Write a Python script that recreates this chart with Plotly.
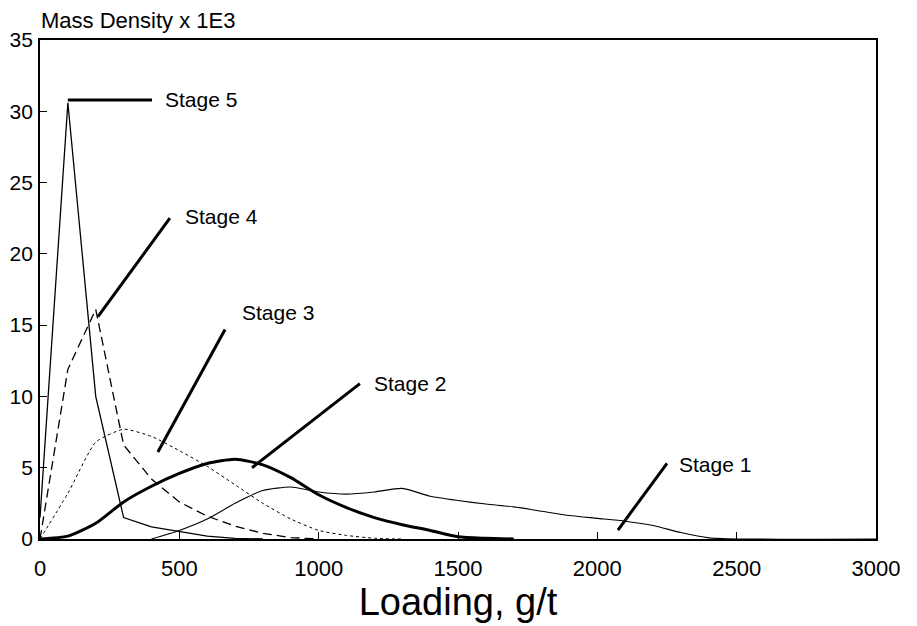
import plotly.graph_objects as go

# ---- data ----
loading_s5 = [0, 100, 200, 300, 400, 500, 600, 700, 800]
stage5 = [1.5, 30.6, 10.0, 1.5, 0.85, 0.5, 0.2, 0.05, 0.0]

loading_s4 = [0, 100, 200, 300, 400, 500, 600, 700, 800, 900, 1000]
stage4 = [0.0, 11.9, 16.1, 6.6, 4.2, 2.6, 1.6, 0.9, 0.4, 0.1, 0.0]

loading_s3 = [0, 100, 200, 300, 400, 500, 600, 700, 800, 900, 1000, 1100, 1200, 1300]
stage3 = [0.0, 3.2, 6.8, 7.7, 7.2, 6.2, 5.1, 3.8, 2.5, 1.4, 0.6, 0.25, 0.05, 0.0]

loading_s2 = [0, 100, 200, 300, 400, 500, 600, 700, 800, 900, 1000, 1100, 1200, 1300, 1400, 1500, 1600, 1700]
stage2 = [0.0, 0.2, 1.1, 2.6, 3.7, 4.6, 5.3, 5.6, 5.2, 4.3, 3.1, 2.2, 1.5, 1.0, 0.6, 0.15, 0.05, 0.0]

loading_s1 = [400, 500, 600, 700, 800, 900, 1000, 1100, 1200, 1300, 1400, 1500, 1600,
              1700, 1800, 1900, 2000, 2100, 2200, 2300, 2400, 2500, 3000]
stage1 = [0.0, 0.6, 1.4, 2.5, 3.4, 3.65, 3.3, 3.15, 3.3, 3.55, 3.0, 2.7, 2.45,
          2.25, 1.95, 1.65, 1.45, 1.25, 0.95, 0.45, 0.08, 0.0, 0.0]

stage_labels = ["Stage 1", "Stage 2", "Stage 3", "Stage 4", "Stage 5"]
x_ticks = [0, 500, 1000, 1500, 2000, 2500, 3000]
y_ticks = [0, 5, 10, 15, 20, 25, 30, 35]

FONT = "Liberation Sans, Arial, sans-serif"

fig = go.Figure()
fig.add_trace(go.Scatter(x=loading_s1, y=stage1, mode="lines", name=stage_labels[0],
                         line=dict(color="black", width=1.1, shape="spline", smoothing=0.6)))
fig.add_trace(go.Scatter(x=loading_s2, y=stage2, mode="lines", name=stage_labels[1],
                         line=dict(color="black", width=3, shape="spline", smoothing=0.6)))
fig.add_trace(go.Scatter(x=loading_s3, y=stage3, mode="lines", name=stage_labels[2],
                         line=dict(color="black", width=1, dash="dot", shape="spline", smoothing=0.5)))
fig.add_trace(go.Scatter(x=loading_s4, y=stage4, mode="lines", name=stage_labels[3],
                         line=dict(color="black", width=1.3, dash="9px,5px")))
fig.add_trace(go.Scatter(x=loading_s5, y=stage5, mode="lines", name=stage_labels[4],
                         line=dict(color="black", width=1.3)))

# leader lines (data coordinates) and labels
leaders = [
    (2250, 5.3, 2074, 0.63, 2286, 5.2),
    (1148, 10.9, 761, 5.0, 1191, 10.9),
    (664, 14.7, 423, 6.1, 718, 15.9),
    (466, 22.5, 208, 15.6, 513, 22.6),
    (402, 30.8, 100, 30.8, 441, 30.8),
]
for lab, (x0, y0, x1, y1, tx, ty) in zip(stage_labels, leaders):
    fig.add_shape(type="line", x0=x0, y0=y0, x1=x1, y1=y1, xref="x", yref="y",
                  line=dict(color="black", width=3))
    fig.add_annotation(x=tx, y=ty, xref="x", yref="y", text=lab, showarrow=False,
                       xanchor="left", yanchor="middle",
                       font=dict(family=FONT, size=21, color="black"))

fig.add_annotation(x=0, y=1, xref="paper", yref="paper", text="Mass Density x 1E3",
                   showarrow=False, xanchor="left", yanchor="bottom", yshift=5, xshift=-1,
                   font=dict(family=FONT, size=22, color="black"))

# the page body has an 8px margin, so the figure is sized to fit the 917x626 window
fig.update_layout(
    width=909, height=618,
    margin=dict(l=32, r=41, t=32, b=87),
    paper_bgcolor="white", plot_bgcolor="white",
    showlegend=False,
    font=dict(family=FONT, color="black"),
    xaxis=dict(range=[0, 3000], tickvals=x_ticks, ticks="inside", ticklen=7,
               tickcolor="black", showline=True, linecolor="black", linewidth=1.8,
               mirror=True, showgrid=False, zeroline=False, automargin=False,
               tickfont=dict(family=FONT, size=22, color="black"),
               ticklabelstandoff=9,
               title=dict(text="Loading, g/t", standoff=8,
                          font=dict(family=FONT, size=38, color="black"))),
    yaxis=dict(range=[0, 35], tickvals=y_ticks, ticks="inside", ticklen=7,
               tickcolor="black", showline=True, linecolor="black", linewidth=1.8,
               mirror=True, showgrid=False, zeroline=False, automargin=False,
               tickfont=dict(family=FONT, size=21, color="black"),
               ticklabelstandoff=1),
)

fig.write_html("out.html")
